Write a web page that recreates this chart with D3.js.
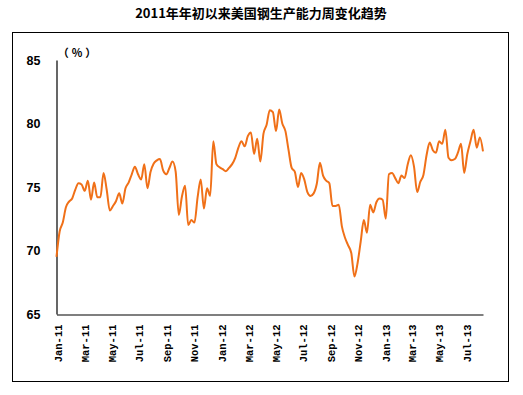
<!DOCTYPE html>
<html><head><meta charset="utf-8">
<script src="https://cdn.jsdelivr.net/npm/d3@7"></script>
<style>
html,body{margin:0;padding:0;background:#fff;}
svg{display:block;}
</style></head>
<body>
<script>
const title = "2011年年初以来美国钢生产能力周变化趋势";
const unitLabel = "（%）";
const startDate = "2011-01-01";
const yTicks = [65, 70, 75, 80, 85];
const values = [
69.5,71.5,72.2,73.4,73.85,74.1,74.8,75.3,75.2,74.7,
75.5,74.0,75.35,74.2,74.2,76.1,74.8,73.15,73.5,73.9,
74.5,73.7,74.9,75.35,76.0,76.6,76.0,75.6,76.8,74.9,
76.2,76.85,77.1,77.2,76.3,76.0,76.5,77.0,76.2,72.8,
74.25,75.1,72.0,72.4,72.2,74.2,75.6,73.3,74.9,74.3,
78.6,76.8,76.55,76.4,76.25,76.5,76.8,77.3,78.1,78.6,
78.2,79.0,79.3,77.6,78.8,77.0,79.2,79.9,81.05,80.9,
79.4,81.1,80.0,79.4,77.9,76.5,76.2,75.0,76.1,75.6,
74.6,74.3,74.5,75.25,76.9,75.9,75.5,75.3,73.5,73.5,
73.6,71.9,71.0,70.4,69.8,67.95,69.0,70.7,72.4,71.4,
73.6,73.0,73.8,74.1,74.0,72.5,76.0,76.1,75.7,75.3,
75.9,75.7,76.8,77.5,76.6,74.6,75.4,75.95,77.5,78.5,
77.9,77.7,78.6,78.4,79.5,77.3,77.1,77.2,77.7,78.4,
76.1,77.6,78.6,79.5,78.1,78.9,77.8
];

const W = 523, H = 395;
const svg = d3.select("body").append("svg").attr("width", W).attr("height", H);

const parse = d3.timeParse("%Y-%m-%d");
const start = parse(startDate);
const data = values.map((v, i) => ({date: d3.timeDay.offset(start, 7 * i), value: v}));

// title
svg.append("text").attr("x", 261).attr("y", 18).attr("text-anchor", "middle")
  .attr("font-family", "'Noto Sans CJK SC', sans-serif").attr("font-weight", "bold")
  .attr("font-size", 13).attr("fill", "#000").text(title);

// outer frame
svg.append("rect").attr("x", 12.5).attr("y", 32.5).attr("width", 496).attr("height", 349)
  .attr("fill", "none").attr("stroke", "#000").attr("stroke-width", 1);

const x = d3.scaleTime().domain([start, data[data.length - 1].date]).range([56.5, 483]);
const y = d3.scaleLinear().domain([65, 85]).range([314, 60]);

// y axis
const yAxis = svg.append("g").attr("transform", "translate(56.5,0)")
  .call(d3.axisLeft(y).tickValues(yTicks).tickSize(0).tickPadding(16).tickFormat(d3.format("d")));
yAxis.select(".domain").attr("stroke", "#000").attr("stroke-width", 1.2);
yAxis.selectAll("text").attr("font-family", "'Liberation Sans', Arial, sans-serif")
  .attr("font-weight", "bold").attr("font-size", 12.5).attr("fill", "#000");

// x axis
const xAxis = svg.append("g").attr("transform", "translate(0,314.5)")
  .call(d3.axisBottom(x).ticks(d3.timeMonth.every(2)).tickSize(0).tickFormat(d3.timeFormat("%b-%y")));
xAxis.select(".domain").attr("stroke", "#000").attr("stroke-width", 1.2);
xAxis.selectAll("text")
  .attr("font-family", "'Liberation Mono', 'Courier New', monospace")
  .attr("font-weight", "bold").attr("font-size", 10.5).attr("fill", "#000")
  .attr("text-anchor", "end")
  .attr("transform", "rotate(-90)")
  .attr("x", -10).attr("y", 1.5).attr("dy", "0.35em");

// unit label
svg.append("text").attr("x", 78.5).attr("y", 57).attr("text-anchor", "middle")
  .attr("font-family", "'Noto Sans CJK SC', sans-serif").attr("font-weight", "bold")
  .attr("font-size", 11).attr("letter-spacing", 3).attr("fill", "#000").text(unitLabel);

// line
const line = d3.line().x(d => x(d.date)).y(d => y(d.value)).curve(d3.curveMonotoneX);
svg.append("path").datum(data).attr("d", line)
  .attr("fill", "none").attr("stroke", "#F07018").attr("stroke-width", 2)
  .attr("stroke-linejoin", "round");
</script>
</body></html>
